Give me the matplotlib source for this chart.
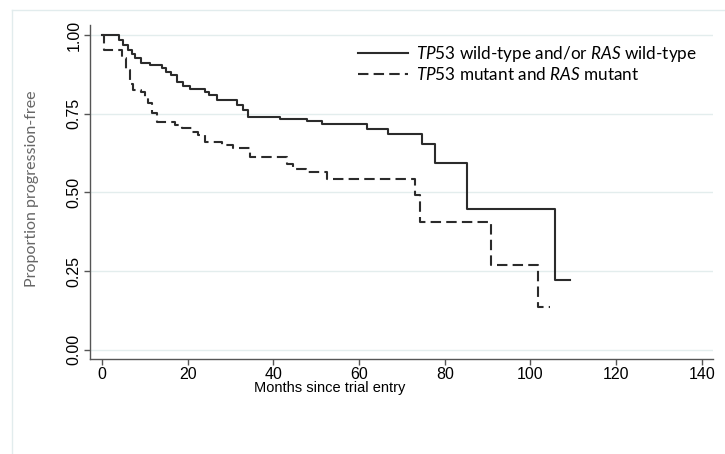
import numpy as np
import matplotlib.pyplot as plt
from matplotlib.lines import Line2D

plt.rcParams['mathtext.fontset'] = 'custom'
plt.rcParams['mathtext.rm'] = 'Lato'
plt.rcParams['mathtext.it'] = 'Lato:italic'

# Kaplan-Meier estimates (months, proportion progression-free)
wt_months = [0, 4.0, 5.0, 6.0, 7.0, 7.8, 9.2, 11.2, 13.9, 15.0, 16.0, 17.4, 18.9, 20.5,
             24.0, 25.0, 26.8, 31.4, 32.8, 34.1, 41.5, 47.8, 51.3, 61.8, 66.8, 74.6,
             77.7, 85.2, 105.7, 109.3]
wt_prop = [1.0, 0.984, 0.968, 0.952, 0.939, 0.926, 0.912, 0.904, 0.894, 0.883, 0.873, 0.851,
           0.838, 0.830, 0.820, 0.809, 0.793, 0.777, 0.761, 0.740, 0.733, 0.727, 0.719,
           0.703, 0.685, 0.655, 0.595, 0.446, 0.223, 0.223]

mut_months = [0, 0.5, 4.6, 5.5, 6.5, 7.3, 9.2, 10.0, 10.8, 11.6, 12.8, 17.0, 18.6, 20.9,
              22.5, 24.0, 28.0, 30.5, 34.5, 43.1, 44.6, 47.5, 52.4, 73.0, 74.2, 90.7,
              101.8, 104.5]
mut_prop = [1.0, 0.952, 0.926, 0.889, 0.846, 0.827, 0.820, 0.804, 0.783, 0.751, 0.725,
            0.714, 0.704, 0.693, 0.682, 0.661, 0.650, 0.640, 0.613, 0.592, 0.576, 0.566,
            0.543, 0.492, 0.407, 0.271, 0.136, 0.136]

xticks = [0, 20, 40, 60, 80, 100, 120, 140]
yticks = [0.0, 0.25, 0.5, 0.75, 1.0]

fig = plt.figure(figsize=(7.25, 4.54), dpi=100)
ax = fig.add_axes([90/725, 1-359/454, 623/725, 334/454])

for y in yticks:
    ax.axhline(y, color='#e3eded', lw=1.0, zorder=0)

ax.step(wt_months, wt_prop, where='post', color='#2b2b2b', lw=1.5,
        label='$\\it{TP53}$ wild-type and/or $\\it{RAS}$ wild-type')
ax.step(mut_months, mut_prop, where='post', color='#2b2b2b', lw=1.5,
        dashes=[5.0, 2.5], label='$\\it{TP53}$ mutant and $\\it{RAS}$ mutant')

ax.set_xlim(-2.8, 142.6)
ax.set_ylim(-0.029, 1.032)
ax.set_xticks(xticks)
ax.set_xticklabels([str(t) for t in xticks], fontfamily='Liberation Sans', fontsize=11.5)
ax.set_yticks(yticks)
ax.set_yticklabels(['%.2f' % t for t in yticks], fontfamily='Liberation Sans', fontsize=11.5,
                   rotation=90, va='center')
ax.tick_params(axis='both', direction='out', length=4, width=1, color='#555555', pad=2)

for s in ['top', 'right']:
    ax.spines[s].set_visible(False)
for s in ['left', 'bottom']:
    ax.spines[s].set_color('#555555')
    ax.spines[s].set_linewidth(1.0)

ax.set_xlabel('Months since trial entry', fontfamily='Liberation Sans', fontsize=10.5)
ax.xaxis.set_label_coords((330-90)/623, -(381-359)/334)
ax.set_ylabel('Proportion progression-free', fontfamily='Lato', fontsize=11.5, color='#666666')
ax.yaxis.set_label_coords(-(90-39)/623, 0.51)

leg = ax.legend(loc='upper left', bbox_to_anchor=((358-90)/623, 1-(44-25)/334), frameon=False,
                handlelength=2.9, handletextpad=0.5, labelspacing=0.1,
                borderaxespad=0, borderpad=0, prop={'family': 'Lato', 'size': 12.3})

# light outer frame
fig.add_artist(Line2D([12/725, 12/725], [0, 1-10/454], color='#e2eced', lw=1.0))
fig.add_artist(Line2D([12/725, 1], [1-10/454, 1-10/454], color='#e2eced', lw=1.0))

fig.savefig('out.png', dpi=100)
